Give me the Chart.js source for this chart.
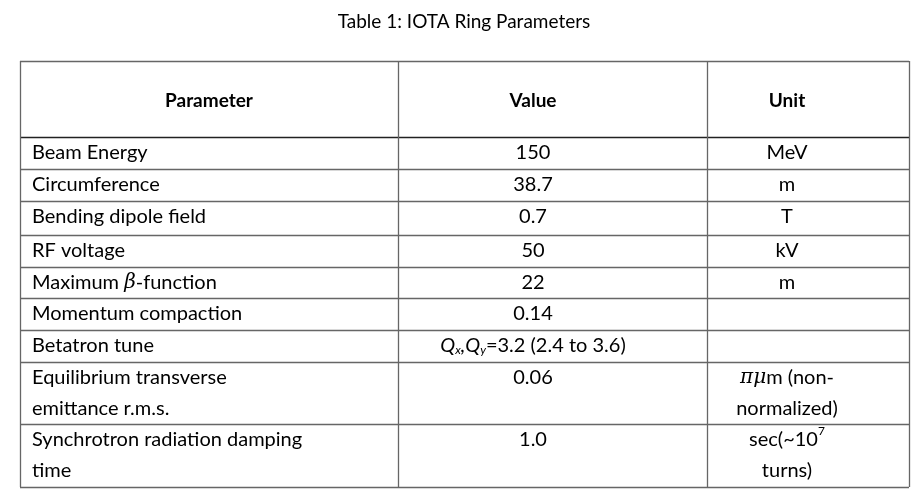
<!DOCTYPE html>
<html><head><meta charset="utf-8">
<script src="https://cdn.jsdelivr.net/npm/chart.js@4"></script>
<style>html,body{margin:0;padding:0;background:#fff}</style>
</head><body>
<canvas id="c" width="919" height="504"></canvas>
<script>
const title = "Table 1: IOTA Ring Parameters";
const headers = ["Parameter", "Value", "Unit"];
// rich segments: [text, style] style: n normal, i italic serif, sub subscript italic, sup superscript
const parameters = [
  [[["Beam Energy","n"]]],
  [[["Circumference","n"]]],
  [[["Bending dipole field","n"]]],
  [[["RF voltage","n"]]],
  [[["Maximum ","n"],["β","i"],["-function","n"]]],
  [[["Momentum compaction","n"]]],
  [[["Betatron tune","n"]]],
  [[["Equilibrium transverse","n"]],[["emittance r.m.s.","n"]]],
  [[["Synchrotron radiation damping","n"]],[["time","n"]]]
];
const values = [
  [[["150","n"]]],
  [[["38.7","n"]]],
  [[["0.7","n"]]],
  [[["50","n"]]],
  [[["22","n"]]],
  [[["0.14","n"]]],
  [[["Q","iq"],["x","sub"],[",","iq"],["Q","iq"],["y","sub"],["=3.2 (2.4 to 3.6)","n"]]],
  [[["0.06","n"]]],
  [[["1.0","n"]]]
];
const units = [
  [[["MeV","n"]]],
  [[["m","n"]]],
  [[["T","n"]]],
  [[["kV","n"]]],
  [[["m","n"]]],
  [[["","n"]]],
  [[["","n"]]],
  [[["πμ","i"],["m (non-","n"]],[["normalized)","n"]]],
  [[["sec(~10","n"],["7","sup"]],[["turns)","n"]]]
];
// layout (pixel-space scale units)
const colEdges = [20, 398, 707, 909];
const colText = [{x:32,align:"left"},{x:533,align:"center"},{x:787,align:"center"}];
const rowEdges = [61, 137, 169, 201, 235, 267, 298, 330, 362, 424, 487];
const lineH = 31;

const FONT = "Lato";
function segFont(st, size){
  if(st==="i") return "italic "+size+"px 'DejaVu Serif'";
  if(st==="iq") return "italic "+size+"px "+FONT;
  if(st==="sub") return "italic "+Math.round(size*0.62)+"px "+FONT;
  if(st==="sup") return Math.round(size*0.6)+"px "+FONT;
  return size+"px "+FONT;
}
function drawRich(ctx, segs, x, y, align, size){
  let w=0; const ws=[];
  segs.forEach(s=>{ctx.font=segFont(s[1],size); const m=ctx.measureText(s[0]).width; ws.push(m); w+=m;});
  let cx = align==="center" ? x-w/2 : x;
  segs.forEach((s,i)=>{
    ctx.font=segFont(s[1],size);
    let dy=0; if(s[1]==="sub") dy=5; if(s[1]==="sup") dy=-8;
    ctx.fillText(s[0], cx, y+dy); cx+=ws[i];
  });
}
const tablePlugin = {
  id:"table",
  afterDraw(chart){
    const ctx=chart.ctx, xs=chart.scales.x, ys=chart.scales.y;
    const X=v=>xs.getPixelForValue(v), Y=v=>ys.getPixelForValue(v);
    ctx.save();
    ctx.fillStyle="#000"; ctx.textBaseline="middle";
    ctx.font="19px "+FONT; ctx.textAlign="center";
    ctx.fillText(title, X(464), Y(22));
    ctx.strokeStyle="#555"; ctx.lineWidth=1.3;
    rowEdges.forEach((r,i)=>{ctx.beginPath(); ctx.strokeStyle=(i===1)?"#222":"#666"; ctx.moveTo(X(colEdges[0]),Y(r)+0.5); ctx.lineTo(X(colEdges[3]),Y(r)+0.5); ctx.stroke();});
    ctx.strokeStyle="#666";
    colEdges.forEach(c=>{ctx.beginPath(); ctx.moveTo(X(c)+0.5,Y(rowEdges[0])); ctx.lineTo(X(c)+0.5,Y(rowEdges[rowEdges.length-1])); ctx.stroke();});
    ctx.textAlign="left";
    const hy=(rowEdges[0]+rowEdges[1])/2+2;
    headers.forEach((h,i)=>{
      ctx.font="bold 19px "+FONT;
      const w=ctx.measureText(h).width;
      const cx = i===0 ? (colEdges[0]+colEdges[1])/2 : colText[i].x;
      ctx.fillText(h, X(cx)-w/2, Y(hy));
    });
    [parameters, values, units].forEach((col,ci)=>{
      col.forEach((lines,ri)=>{
        lines.forEach((segs,li)=>{
          const y = rowEdges[ri+1]+15.5+li*lineH;
          drawRich(ctx, segs, X(colText[ci].x), Y(y), colText[ci].align, 20);
        });
      });
    });
    ctx.restore();
  }
};
new Chart(document.getElementById("c"),{
  type:"scatter",
  data:{datasets:[{data:[],pointRadius:0}]},
  options:{
    responsive:false, animation:false, devicePixelRatio:1,
    layout:{padding:0},
    plugins:{legend:{display:false},tooltip:{enabled:false}},
    scales:{
      x:{type:"linear",min:0,max:919,display:false},
      y:{type:"linear",min:0,max:504,reverse:true,display:false}
    }
  },
  plugins:[tablePlugin]
});
</script>
</body></html>
